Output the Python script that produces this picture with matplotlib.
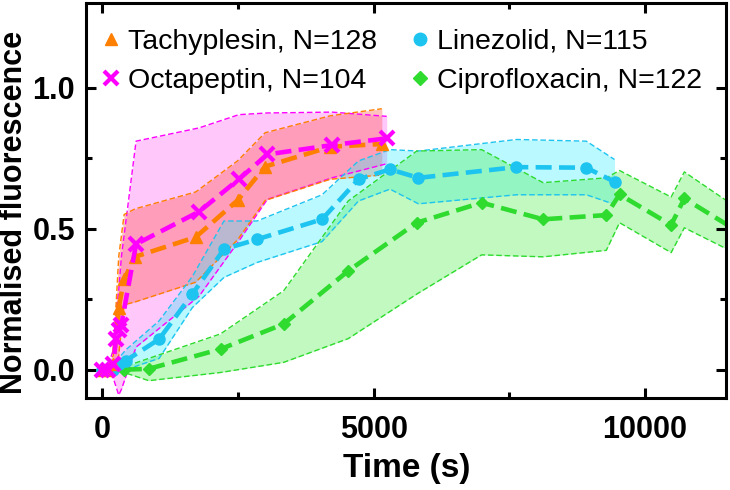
import matplotlib
matplotlib.use("Agg")
import matplotlib.pyplot as plt
from matplotlib.lines import Line2D

plt.rcParams['font.family'] = ['Liberation Sans', 'DejaVu Sans']

# Tachyplesin
tachy_t = [0, 100, 200, 300, 400, 600, 1720, 2490, 3000, 4200, 5150]
tachy_y = [0, 0, 0.02, 0.22, 0.32, 0.40, 0.47, 0.60, 0.72, 0.79, 0.80]
tachy_lo = [0, -0.01, -0.01, 0.05, 0.23, 0.24, 0.31, 0.46, 0.60, 0.675, 0.69]
tachy_hi = [0, 0.01, 0.05, 0.40, 0.55, 0.57, 0.63, 0.74, 0.84, 0.90, 0.925]

# Octapeptin
octa_t = [0, 100, 200, 250, 300, 350, 620, 1780, 2515, 3040, 4230, 5240]
octa_y = [0, 0, 0.02, 0.11, 0.14, 0.16, 0.445, 0.56, 0.675, 0.763, 0.796, 0.82]
octa_lo = [0, -0.01, -0.03, -0.06, -0.09, -0.07, 0.08, 0.26, 0.456, 0.604, 0.68, 0.73]
octa_hi = [0, 0.01, 0.07, 0.2, 0.28, 0.4, 0.81, 0.857, 0.904, 0.91, 0.913, 0.898]

# Linezolid
line_t = [0, 200, 300, 430, 1045, 1657, 2240, 2850, 4048, 4720, 5300, 5824, 7632, 8919, 9439]
line_y = [0, 0, 0.02, 0.032, 0.108, 0.268, 0.427, 0.462, 0.533, 0.675, 0.71, 0.68, 0.718, 0.716, 0.666]
line_lo = [0, -0.01, 0.0, 0.0, 0.04, 0.22, 0.327, 0.38, 0.454, 0.598, 0.64, 0.588, 0.62, 0.62, 0.586]
line_hi = [0, 0.01, 0.04, 0.07, 0.173, 0.33, 0.527, 0.527, 0.62, 0.74, 0.78, 0.775, 0.816, 0.81, 0.745]

# Ciprofloxacin
cipro_t = [0, 400, 855, 2178, 3342, 4530, 5794, 6989, 8122, 9287, 9531, 10482, 10726, 11800]
cipro_y = [0, 0, 0.003, 0.073, 0.162, 0.35, 0.521, 0.592, 0.533, 0.548, 0.621, 0.513, 0.607, 0.48]
cipro_lo = [0, -0.01, -0.039, -0.01, 0.026, 0.11, 0.268, 0.407, 0.40, 0.423, 0.521, 0.415, 0.503, 0.40]
cipro_hi = [0, 0.01, 0.04, 0.127, 0.28, 0.598, 0.775, 0.78, 0.663, 0.68, 0.706, 0.612, 0.701, 0.56]

labels = ["Tachyplesin, N=128", "Octapeptin, N=104", "Linezolid, N=115", "Ciprofloxacin, N=122"]

series = [
    (octa_t, octa_y, octa_lo, octa_hi, "#FF00FF", "#FF55F0", "x"),
    (tachy_t, tachy_y, tachy_lo, tachy_hi, "#FF7F00", "#FF4A3A", "^"),
    (line_t, line_y, line_lo, line_hi, "#1EC4F0", "#30EEFF", "o"),
    (cipro_t, cipro_y, cipro_lo, cipro_hi, "#2EDB2E", "#44EE44", "D"),
]

fig = plt.figure(figsize=(7.3, 4.9), dpi=100)
ax = fig.add_axes([0.118, 0.188, 0.877, 0.806])

# bandes
for t, y, lo, hi, col, fcol, m in series:
    ax.fill_between(t, lo, hi, color=fcol, alpha=0.33, lw=0)
    ax.plot(t, lo, color=col, lw=1.0, ls=(0, (4, 2)))
    ax.plot(t, hi, color=col, lw=1.0, ls=(0, (4, 2)))

# courbes moyennes
order = [3, 2, 1, 0]
for i in order:
    t, y, lo, hi, col, fcol, m = series[i]
    if m == "x":
        ax.plot(t, y, color=col, lw=3.3, ls=(0, (3.5, 1.6)), marker=m, ms=10, mew=3)
    elif m == "D":
        ax.plot(t, y, color=col, lw=3.3, ls=(0, (3.5, 1.6)), marker=m, ms=6)
    else:
        ax.plot(t, y, color=col, lw=3.3, ls=(0, (3.5, 1.6)), marker=m, ms=8)

ax.set_xlim(-300, 11500)
ax.set_ylim(-0.1, 1.3)
ax.set_xticks([0, 5000, 10000])
ax.set_xticks([2500, 7500], minor=True)
ax.set_yticks([0.0, 0.5, 1.0])
ax.set_yticks([0.25, 0.75], minor=True)
ax.set_yticklabels(["0.0", "0.5", "1.0"])
ax.tick_params(which="both", direction="in", top=True, right=True, width=2.2,
               labelsize=22, pad=8)
ax.tick_params(axis="x", which="both", pad=12)
ax.tick_params(which="major", length=7)
ax.tick_params(which="minor", length=4.5)
for lab in ax.get_xticklabels() + ax.get_yticklabels():
    lab.set_fontweight("bold")
for s in ax.spines.values():
    s.set_linewidth(2.2)

ax.set_xlabel("Time (s)", fontsize=24, fontweight="bold", labelpad=6)
ax.set_ylabel("Normalised fluorescence", fontsize=22, fontweight="bold")
ax.yaxis.set_label_coords(-0.09, 0.47)

handles = [
    Line2D([], [], color="#FF7F00", marker="^", ls="none", ms=9),
    Line2D([], [], color="#FF00FF", marker="x", ls="none", ms=10, mew=3),
    Line2D([], [], color="#1EC4F0", marker="o", ls="none", ms=9),
    Line2D([], [], color="#2EDB2E", marker="D", ls="none", ms=7),
]
ax.legend(handles, labels, ncol=2, frameon=False, fontsize=20.5, loc="upper left",
          bbox_to_anchor=(-0.01, 0.985), handlelength=0.8, handletextpad=0.2,
          columnspacing=1.1, labelspacing=0.45, borderaxespad=0.3)

plt.savefig("out.png", dpi=100)
